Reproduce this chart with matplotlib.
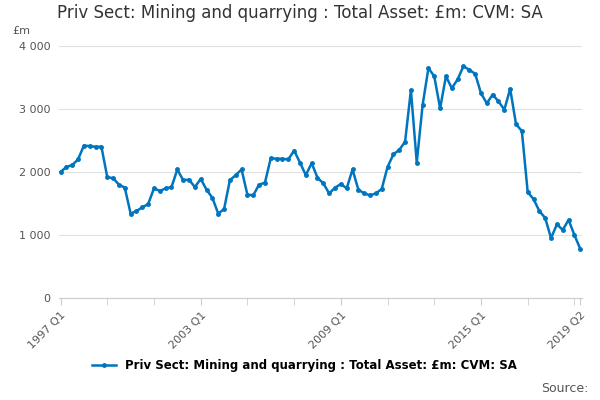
import numpy as np
import matplotlib.pyplot as plt

values = [2000, 2080, 2110, 2200, 2420, 2410, 2400, 2400,
          1920, 1900, 1800, 1750, 1340, 1380, 1440, 1490,
          1740, 1700, 1740, 1760, 2040, 1870, 1880, 1760,
          1890, 1720, 1590, 1340, 1410, 1870, 1950, 2040,
          1640, 1630, 1800, 1830, 2220, 2210, 2210, 2200,
          2340, 2150, 1950, 2140, 1910, 1820, 1660, 1750,
          1810, 1740, 2040, 1720, 1660, 1630, 1660, 1730,
          2080, 2280, 2350, 2480, 3300, 2150, 3060, 3650,
          3520, 3010, 3520, 3330, 3470, 3680, 3620, 3560,
          3250, 3090, 3230, 3120, 2990, 3320, 2760, 2650,
          1680, 1570, 1380, 1270, 950, 1170, 1080, 1240,
          1000, 780]
labels = [f"{1997 + i // 4} Q{i % 4 + 1}" for i in range(len(values))]
label_idx = [0, 24, 48, 72, 89]
series_name = "Priv Sect: Mining and quarrying : Total Asset: £m: CVM: SA"

blue = '#0075bf'
fig = plt.figure(figsize=(6, 4), dpi=100)
ax = fig.add_axes([0.098, 0.255, 0.872, 0.63])
x = np.arange(len(values))
ax.plot(x, values, color=blue, lw=1.8, marker='o', ms=2.5, label=series_name)

ax.set_ylim(0, 4000)
ax.set_xlim(-0.3, 89.3)
ax.set_yticks([0, 1000, 2000, 3000, 4000])
ax.set_yticklabels(['0', '1 000', '2 000', '3 000', '4 000'], fontsize=8, color='#555555')
ax.set_xticks(list(range(0, 90, 8)) + [89], minor=True)
ax.set_xticks(label_idx)
ax.set_xticklabels([labels[i] for i in label_idx], rotation=45, ha='right',
                   rotation_mode='anchor', fontsize=8, color='#555555')
ax.tick_params(axis='y', length=0, pad=6)
ax.tick_params(axis='x', which='both', length=5, color='#cccccc')
ax.grid(axis='y', color='#e0e0e0', lw=0.8)
for s in ['top', 'right', 'left']:
    ax.spines[s].set_visible(False)
ax.spines['bottom'].set_color('#cccccc')

fig.text(0.5, 0.955, "Priv Sect: Mining and quarrying : Total Asset: £m: CVM: SA",
         ha='center', fontsize=12, color='#333333')
fig.text(0.02, 0.915, '£m', fontsize=8, color='#555555')
ax.legend(loc='upper center', bbox_to_anchor=(0.47, -0.2), frameon=False,
          prop={'weight': 'bold', 'size': 8.5}, handlelength=2)
fig.text(0.98, 0.02, 'Source:', ha='right', fontsize=9, color='#555555')
fig.savefig('out.png', dpi=100)
